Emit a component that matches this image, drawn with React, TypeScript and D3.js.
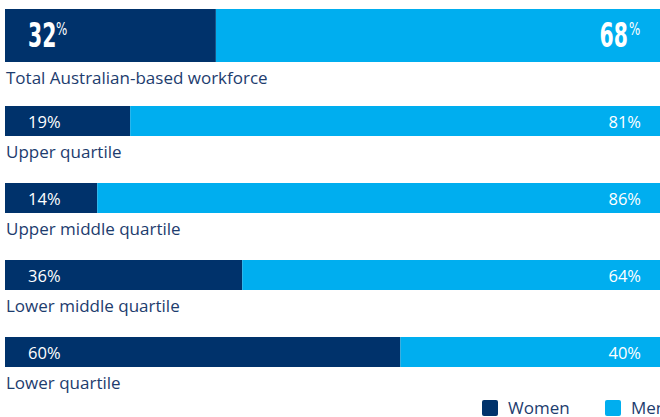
import React from "react";
import * as d3 from "d3";

const categories = ["Total Australian-based workforce", "Upper quartile", "Upper middle quartile", "Lower middle quartile", "Lower quartile"];
const women = [32, 19, 14, 36, 60];
const men = [68, 81, 86, 64, 40];
const legendLabels = ["Women", "Men"];

const NAVY = "#00326b";
const BLUE = "#00aeef";
const TEXT = "#1d3c6e";
const FONT = "'Open Sans', 'Noto Sans', sans-serif";
const COND = "'DejaVu Sans', sans-serif";

export default function App() {
  const W = 660, H = 417;
  const x = d3.scaleLinear().domain([0, 100]).range([5, 664]);
  const tops = [9, 106, 183, 260, 337];
  const heights = [53, 30, 30, 30, 30];
  return (
    <svg width={W} height={H} style={{ position: "absolute", left: 0, top: 0 }}>
      {categories.map((c, i) => {
        const y = tops[i];
        const h = heights[i];
        const big = i === 0;
        return (
          <g key={c}>
            <rect x={x(0)} y={y} width={x(women[i]) - x(0)} height={h} fill={NAVY} />
            <rect x={x(women[i])} y={y} width={x(100) - x(women[i])} height={h} fill={BLUE} />
            {big ? (
              <>
                <text transform={`translate(28,${y + 38}) scale(0.6,1)`} fill="#fff" fontFamily={COND} fontWeight="bold" fontSize={34}>{women[i]}</text>
                <text transform={`translate(56,${y + 26}) scale(0.7,1)`} fill="#fff" fontFamily={COND} fontSize={17}>%</text>
                <text transform={`translate(628,${y + 38}) scale(0.6,1)`} fill="#fff" fontFamily={COND} fontWeight="bold" fontSize={34} textAnchor="end">{men[i]}</text>
                <text transform={`translate(629,${y + 26}) scale(0.7,1)`} fill="#fff" fontFamily={COND} fontSize={17}>%</text>
              </>
            ) : (
              <>
                <text x={28} y={y + 22} fill="#fff" fontFamily={FONT} fontSize={16.5}>{women[i]}%</text>
                <text x={641} y={y + 22} fill="#fff" fontFamily={FONT} fontSize={16.5} textAnchor="end">{men[i]}%</text>
              </>
            )}
            <text x={6} y={y + h + 22} fill={TEXT} fontFamily={FONT} fontSize={17}>{c}</text>
          </g>
        );
      })}
      {legendLabels.map((l, i) => {
        const lx = [482, 605][i];
        return (
          <g key={l}>
            <rect x={lx} y={400} width={16} height={16} rx={2} fill={i === 0 ? NAVY : BLUE} />
            <text x={lx + 26} y={414} fill={TEXT} fontFamily={FONT} fontSize={17}>{l}</text>
          </g>
        );
      })}
    </svg>
  );
}
